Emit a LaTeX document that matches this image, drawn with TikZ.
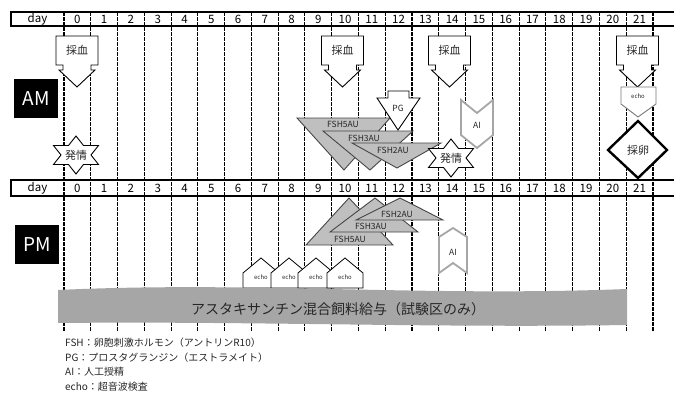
\documentclass[tikz,border=0pt]{standalone}
\usepackage{fontspec}
\setmainfont{Noto Sans CJK JP}
\definecolor{fshfill}{RGB}{191,191,191}
\definecolor{fshline}{RGB}{70,70,70}
\definecolor{aigray}{RGB}{166,166,166}
\definecolor{bandgray}{RGB}{166,166,166}
\definecolor{echogray}{RGB}{120,120,120}
\definecolor{txtdark}{RGB}{38,38,38}
\tikzset{
  dsh/.style={line width=1.1pt, dash pattern=on 3.5pt off 1.5pt},
  hdr/.style={line width=1.1pt},
  num/.style={font=\fontsize{11.5}{13}\selectfont, inner sep=0pt},
  blk/.style={draw=black, line width=0.9pt, fill=white},
  fsh/.style={draw=fshline, line width=0.9pt, fill=fshfill},
  flbl/.style={font=\fontsize{8.5}{10}\selectfont, inner sep=0pt, text=txtdark},
  jlbl/.style={font=\fontsize{11}{12}\selectfont, inner sep=0pt, text=txtdark},
  slbl/.style={font=\fontsize{8.5}{10}\selectfont, inner sep=0pt, text=txtdark},
  tiny/.style={font=\fontsize{6}{7}\selectfont, inner sep=0pt, text=txtdark},
  aishape/.style={draw=aigray, line width=1.8pt, fill=white},
  echoshape/.style={draw=echogray, line width=0.9pt, fill=white},
  housebox/.style={draw=black, line width=0.8pt, fill=white},
  tag/.style={fill=black, text=white, font=\fontsize{19}{22}\selectfont, inner sep=0pt, minimum width=44pt, minimum height=39pt},
  legend/.style={font=\fontsize{10}{11}\selectfont, inner sep=0pt, anchor=west, text=txtdark},
  samplingpic/.pic={
    \draw[blk] (-21,0) -- (21,0) -- (21,29) -- (14,29) -- (14,34) -- (18,34) -- (0,51)
      -- (-18,34) -- (-14,34) -- (-14,29) -- (-21,29) -- cycle;
    \node[jlbl] (-t) at (0,14) {採血};
  },
  estruspic/.pic={
    \draw[blk] (0,-19) -- (7.5,-9.5) -- (22.5,-9.5) -- (15,0) -- (22.5,9.5) -- (7.5,9.5)
      -- (0,19) -- (-7.5,9.5) -- (-22.5,9.5) -- (-15,0) -- (-22.5,-9.5) -- (-7.5,-9.5) -- cycle;
    \node[jlbl] (-t) at (0,0) {発情};
  },
  housepic/.pic={
    \draw[housebox] (0,30) -- (0,15) -- (18,0) -- (36,15) -- (36,30) -- cycle;
    \node[tiny] (-t) at (18,19.5) {echo};
  }
}
\begin{document}
\begin{tikzpicture}[x=1pt,y=-1pt]
\useasboundingbox (0,0) rectangle (674,394);

% dashed day separators
\foreach \k in {0,...,22}
  \draw[dsh] ({64+26.77*\k},12) -- ({64+26.77*\k},332);

% headers
\foreach \yt/\yb/\yc/\nm in {12/26/19/a,180/196/188/b}{
  \draw[hdr] (674,\yt) -- (11,\yt) -- (11,\yb) -- (674,\yb);
  \node[num] (day\nm) at (37.5,\yc) {day};
  \foreach \d in {0,...,21}
    \node[num] (h\nm\d) at ({64+26.77*(\d+0.5)},\yc) {\d};
}

% AM / PM tags
\node[tag] (am) at (36,98.5) {AM};
\node[tag] (pm) at (37,244.5) {PM};

% blood sampling
\pic (s0) at (77,36) {samplingpic};
\pic (s10) at (342.5,36) {samplingpic};
\pic (s14) at (449.5,36) {samplingpic};
\pic (s21) at (637.5,36) {samplingpic};

% AM FSH triangles
\draw[fsh] (297,118) -- (390,118) -- (344,170) -- cycle;
\draw[fsh] (323,131) -- (413,131) -- (370,170) -- cycle;
\draw[fsh] (352,143) -- (441,143) -- (397,168) -- cycle;
\node[flbl] (fa5) at (343,124.5) {FSH5AU};
\node[flbl] (fa3) at (364,138.5) {FSH3AU};
\node[flbl] (fa2) at (393,150) {FSH2AU};

% PG arrow
\draw[blk] (388,91) -- (409,91) -- (409,98) -- (420,98) -- (398,130) -- (377,98) -- (388,98) -- cycle;
\node[slbl] (pg) at (398,108) {PG};

% estrus stars
\pic (e0) at (76,155) {estruspic};
\pic (e14) at (451,158) {estruspic};

% AI (AM)
\draw[aishape] (461,100) -- (461,135) -- (477,148) -- (493,135) -- (493,100) -- (477,113) -- cycle;
\node[slbl] (aia) at (477,125) {AI};

% echo (AM, day 21)
\draw[echoshape] (621,87) -- (656,87) -- (656,104) -- (638,117) -- (621,104) -- cycle;
\node[tiny] (echoa) at (638,96) {echo};

% egg collection diamond
\draw[draw=black, line width=2.4pt, fill=white, line join=miter] (638,121) -- (667,150) -- (638,178) -- (608,150) -- cycle;
\node[jlbl] (egg) at (638,150) {採卵};

% PM FSH triangles
\draw[fsh] (306,245) -- (393,245) -- (349,198) -- cycle;
\draw[fsh] (330,232) -- (418,232) -- (375,198) -- cycle;
\draw[fsh] (356,220) -- (443,220) -- (400,198) -- cycle;
\node[flbl] (fp5) at (350,239) {FSH5AU};
\node[flbl] (fp3) at (371,226.5) {FSH3AU};
\node[flbl] (fp2) at (397,214) {FSH2AU};

% AI (PM)
\draw[aishape] (439,237) -- (453,228) -- (467,237) -- (467,273) -- (453,263) -- (439,273) -- cycle;
\node[slbl] (aip) at (453,252) {AI};

% echo houses (PM)
\pic (h1) at (243,258) {housepic};
\pic (h2) at (271,258) {housepic};
\pic (h3) at (298,258) {housepic};
\pic (h4) at (327,258) {housepic};

% feeding band
\fill[bandgray] (58,290) .. controls (250,281) and (420,297) .. (627,289)
  -- (627,325) .. controls (430,328) and (250,321) .. (58,323) -- cycle;
\node[font=\fontsize{14}{15}\selectfont, inner sep=0pt, text=txtdark] (band) at (338,309)
  {アスタキサンチン混合飼料給与（試験区のみ）};

% legend
\node[legend] (l1) at (65,343) {FSH：卵胞刺激ホルモン（アントリンR10）};
\node[legend] (l2) at (65,357.5) {PG：プロスタグランジン（エストラメイト）};
\node[legend] (l3) at (65,372) {AI：人工授精};
\node[legend] (l4) at (65,386.5) {echo：超音波検査};
\end{tikzpicture}
\end{document}
